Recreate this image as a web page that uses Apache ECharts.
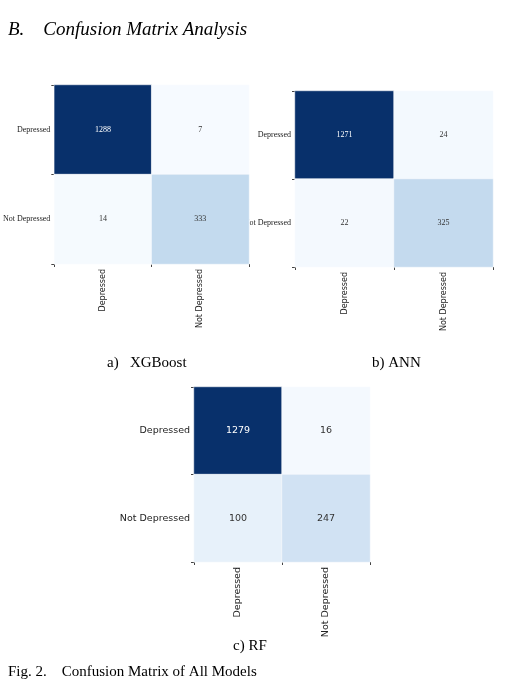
<!DOCTYPE html>
<html><head><meta charset="utf-8">
<script src="https://cdn.jsdelivr.net/npm/echarts@6/dist/echarts.min.js"></script>
<style>html,body{margin:0;padding:0;background:#fff}#c{width:532px;height:694px}</style>
</head><body><div id="c"></div>
<script>
const categories = ['Depressed', 'Not Depressed'];
const xgbValues = [[1288, 7], [14, 333]];
const annValues = [[1271, 24], [22, 325]];
const rfValues = [[1279, 16], [100, 247]];
const blues = ['#f7fbff','#deebf7','#c6dbef','#9ecae1','#6baed6','#4292c6','#2171b5','#08519c','#08306b'];

function toData(m) {
  const out = [];
  const mx = Math.max(...m.flat());
  m.forEach((row, i) => row.forEach((v, j) => out.push({value: [j, i, v],
    label: {color: v > mx * 0.5 ? '#ffffff' : '#333333'}})));
  return out;
}
const mats = [xgbValues, annValues, rfValues];
const grids = [
  {left: 52, top: 85, width: 197, height: 179},
  {left: 295, top: 91, width: 198, height: 176},
  {left: 194, top: 387, width: 176, height: 175}
];
const fs = [8, 8, 9.5];
const fam = ['Liberation Sans Narrow', 'Liberation Sans Narrow', 'DejaVu Sans'];
const option = {
  animation: false,
  grid: grids,
  xAxis: grids.map((g, k) => ({type: 'category', gridIndex: k, data: categories,
    axisLine: {show: false}, splitLine: {show: false},
    axisTick: {show: true, length: 3, lineStyle: {color: '#444'}},
    axisLabel: {rotate: 90, fontSize: fs[k], color: '#222', fontFamily: 'DejaVu Sans', margin: 5}})),
  yAxis: grids.map((g, k) => ({type: 'category', gridIndex: k, data: categories, inverse: true,
    axisLine: {show: false}, splitLine: {show: false},
    axisTick: {show: true, length: 3, lineStyle: {color: '#444'}},
    axisLabel: {fontSize: fs[k], color: '#222', fontFamily: fam[k], margin: 4}})),
  visualMap: mats.map((m, k) => ({show: false, type: 'continuous', seriesIndex: k,
    min: 0, max: Math.max(...m.flat()), dimension: 2, inRange: {color: blues}})),
  series: mats.map((m, k) => ({type: 'heatmap', xAxisIndex: k, yAxisIndex: k, data: toData(m),
    label: {show: true, fontSize: fs[k], fontFamily: fam[k]},
    itemStyle: {borderColor: '#ffffff', borderWidth: 0.5}})),
  graphic: [
    {type: 'text', left: 8, top: 20, style: {text: 'B.    Confusion Matrix Analysis', fontFamily: 'Liberation Serif', fontStyle: 'italic', fontSize: 19, fill: '#000'}},
    {type: 'text', left: 107, top: 356, style: {text: 'a)   XGBoost', fontFamily: 'Liberation Serif', fontSize: 15, fill: '#000'}},
    {type: 'text', left: 372, top: 356, style: {text: 'b) ANN', fontFamily: 'Liberation Serif', fontSize: 15, fill: '#000'}},
    {type: 'text', left: 233, top: 639, style: {text: 'c) RF', fontFamily: 'Liberation Serif', fontSize: 15, fill: '#000'}},
    {type: 'text', left: 8, top: 665, style: {text: 'Fig. 2.    Confusion Matrix of All Models', fontFamily: 'Liberation Serif', fontSize: 15, fill: '#000'}}
  ]
};
echarts.init(document.getElementById('c')).setOption(option);
</script></body></html>
